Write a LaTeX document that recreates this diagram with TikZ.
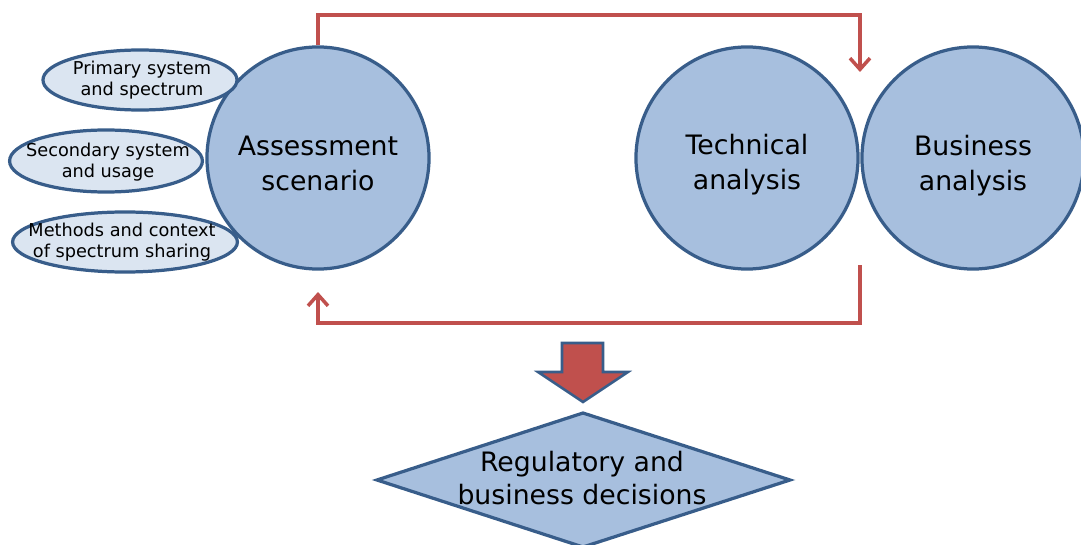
\documentclass[tikz,border=0pt]{standalone}
\usepackage{fontspec}
\setmainfont{DejaVu Sans}
\usetikzlibrary{shapes.geometric, arrows.meta}

\begin{document}
\begin{tikzpicture}[x=0.025cm,y=-0.025cm]
\definecolor{c1}{RGB}{167,191,222}
\definecolor{c2}{RGB}{219,229,241}
\definecolor{c3}{RGB}{56,93,138}
\definecolor{c4}{RGB}{192,80,77}
\tikzset{
  bigc/.style={circle, draw=c3, fill=c1, line width=2.3pt, minimum size=5.55cm},
  ctext/.style={align=center, inner sep=0pt, font=\fontsize{19}{25}\selectfont},
  smalle/.style={ellipse, draw=c3, fill=c2, line width=2.3pt},
  etext/.style={align=center, inner sep=0pt, font=\fontsize{12.6}{15}\selectfont},
  loopline/.style={draw=c4, line width=2.5pt, -{Straight Barb[length=2.8mm,width=5mm]}}
}
\useasboundingbox (0,0) rectangle (1081,545);

\node[bigc] (scen) at (318,158) {};
\node[ctext] (scent) at (318,163.5) {Assessment\\scenario};
\node[bigc] (tech) at (747,158) {};
\node[ctext] (techt) at (747,165) {Technical\\analysis};
\node[bigc] (bus) at (973,158) {};
\node[ctext] (bust) at (973,166) {Business\\analysis};

\node[smalle, minimum width=4.85cm, minimum height=1.5cm] (prim) at (140,80) {};
\node[etext] (primt) at (142,80) {Primary system\\and spectrum};
\node[smalle, minimum width=4.82cm, minimum height=1.55cm] (sec) at (106,161) {};
\node[etext] (sect) at (108,162.5) {Secondary system\\and usage};
\node[smalle, minimum width=5.62cm, minimum height=1.5cm] (meth) at (125,242) {};
\node[etext] (metht) at (122,242.5) {Methods and context\\of spectrum sharing};

\coordinate (top) at (860,15);
\coordinate (T1) at (860,72);
\coordinate (B0) at (860,265);
\coordinate (B1) at (860,323);
\coordinate (B2) at (318,292);

\draw[loopline] (scen.north) |- (top) -- (T1);
\draw[loopline] (B0) -- (B1) -| (B2);

\draw[draw=c3, fill=c4, line width=1.8pt] (562,343) -- (603,343) -- (603,372) -- (628,372) -- (583,402) -- (538,372) -- (562,372) -- cycle;

\draw[draw=c3, fill=c1, line width=2.3pt] (377,480) -- (583,413) -- (790,480) -- (583,547) -- cycle;
\node[align=center, font=\fontsize{19}{23.5}\selectfont] (dec) at (582,478) {Regulatory and\\business decisions};
\end{tikzpicture}
\end{document}
